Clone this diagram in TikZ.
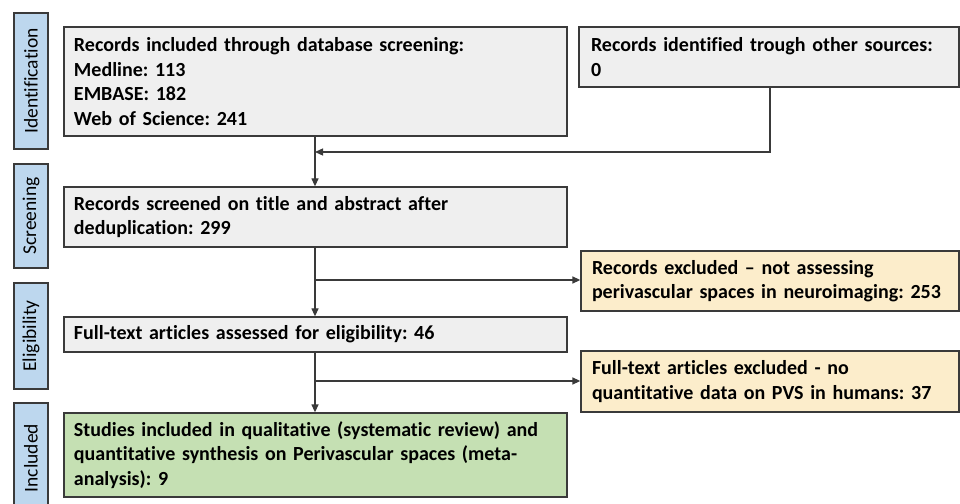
\documentclass[tikz,border=0pt]{standalone}
\usepackage{fontspec}
\setmainfont{Carlito}[Ligatures=NoCommon]
\usetikzlibrary{arrows.meta}
\frenchspacing
\definecolor{greyfill}{HTML}{EFEFEF}
\definecolor{bluefill}{HTML}{BDD7EE}
\definecolor{yellowfill}{HTML}{FCEDCB}
\definecolor{greenfill}{HTML}{C5E0B3}
\definecolor{edge}{HTML}{3A3A3A}
\tikzset{
  box/.style={draw=edge, line width=1.3bp, rectangle, inner xsep=10bp, inner ysep=0bp,
    align=left, font=\fontsize{20bp}{24.5bp}\selectfont\bfseries, anchor=center},
  greybox/.style={box, fill=greyfill},
  yellowbox/.style={box, fill=yellowfill},
  greenbox/.style={box, fill=greenfill},
  stage/.style={draw=edge, line width=1.3bp, fill=bluefill, rectangle, inner sep=0pt,
    font=\fontsize{19.5bp}{22bp}\selectfont, rotate=90, anchor=center},
  conn/.style={draw=edge, line width=1.3bp},
  arr/.style={conn, -{Triangle[length=8bp,width=7bp]}}
}
\begin{document}
\begin{tikzpicture}[x=1bp,y=-1bp]
\clip (0,0) rectangle (960,504);
\fill[white] (0,0) rectangle (960,504);
% stage labels
\node[stage, minimum width=136bp, minimum height=34bp] (sid) at (31,81) {Identification};
\node[stage, minimum width=104bp, minimum height=34bp] (ssc) at (31,216) {Screening};
\node[stage, minimum width=106bp, minimum height=34bp] (sel) at (31,336) {Eligibility};
\node[stage, minimum width=110bp, minimum height=34bp] (sin) at (31,458) {Included};
% boxes
\node[greybox, minimum width=503bp, minimum height=109bp, text width=483bp] (db) at (315.5,81.5)
  {Records included through database screening:\\Medline: 113\\EMBASE: 182\\Web of Science: 241};
\node[greybox, minimum width=380bp, minimum height=60bp, text width=356bp, inner xsep=12bp] (other) at (769,57)
  {Records identified trough other sources:\\0};
\node[greybox, minimum width=503bp, minimum height=60bp, text width=483bp] (scr) at (315.5,217)
  {Records screened on title and abstract after\\deduplication: 299};
\node[yellowbox, minimum width=378bp, minimum height=60bp, text width=356bp] (exc1) at (770,281)
  {Records excluded -- not assessing\\perivascular spaces in neuroimaging: 253};
\node[greybox, minimum width=503bp, minimum height=35bp, text width=483bp] (full) at (315.5,334.5)
  {Full-text articles assessed for eligibility: 46};
\node[yellowbox, minimum width=378bp, minimum height=61bp, text width=356bp] (exc2) at (770,381.5)
  {Full-text articles excluded - no\\quantitative data on PVS in humans: 37};
\node[greenbox, minimum width=503bp, minimum height=84bp, text width=483bp] (inc) at (315.5,455)
  {Studies included in qualitative (systematic review) and\\quantitative synthesis on Perivascular spaces (meta-\\analysis): 9};
% connectors
\coordinate (j1) at (315,152);
\coordinate (j2) at (315,280);
\coordinate (j3) at (315,381);
\draw[arr] (db.south -| j1) -- (scr.north -| j1);
\draw[arr] (other.south -| 770,0) |- (j1);
\draw[arr] (scr.south -| j1) -- (full.north -| j1);
\draw[arr] (j2) -- (exc1.west |- j2);
\draw[arr] (full.south -| j1) -- (inc.north -| j1);
\draw[arr] (j3) -- (exc2.west |- j3);
\end{tikzpicture}
\end{document}
